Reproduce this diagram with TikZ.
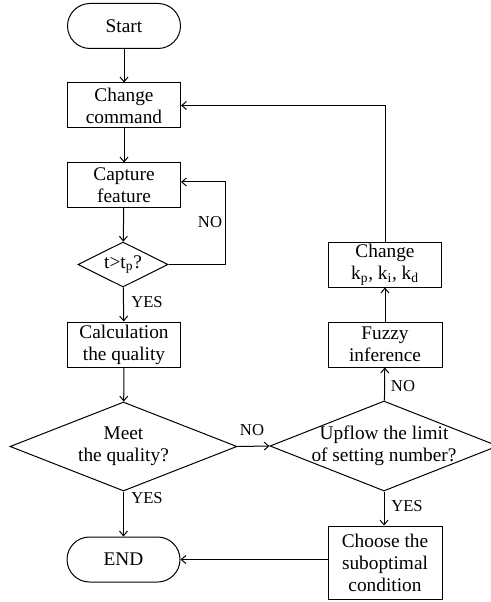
\documentclass[tikz,border=0pt]{standalone}
\usepackage{fontspec}
\setmainfont{Liberation Serif}
\usetikzlibrary{shapes.geometric,arrows.meta}
\begin{document}
\begin{tikzpicture}[x=0.75pt,y=-0.75pt,line width=0.75pt,
  txt/.style={font=\fontsize{14.5}{16.5}\selectfont,align=center},
  lbl/.style={font=\fontsize{12.5}{14}\selectfont,inner sep=0pt},
  box/.style={draw,rectangle,txt,inner sep=0pt,minimum width=84.75pt,minimum height=33.75pt},
  term/.style={box,rounded corners=16.9pt},
  dia/.style={draw,diamond,inner sep=0pt,minimum width=#1},
  arr/.style={-{Straight Barb[length=3.5pt,width=6pt]}}]
\useasboundingbox (0,0) rectangle (490,602);

% left column
\node[term] (start) at (124,26) {Start};
\node[box] (cmd) at (124,105.5) {Change\\command};
\node[box,minimum height=33pt] (cap) at (124,185) {Capture\\feature};
\node[dia=67.5pt,minimum height=33.75pt] (tdia) at (123,264.5) {};
\node[txt] at (tdia) {t>t\textsubscript{p}?};
\node[box] (calc) at (124,344.5) {Calculation\\the quality};
\node[dia=170.25pt,minimum height=66.75pt] (meet) at (123.5,446.5) {};
\node[txt] at (meet) {Meet\\the quality?};
\node[term] (end) at (123.5,559.5) {END};

% right column
\node[dia=171pt,minimum height=67.5pt] (upf) at (384,446) {};
\node[txt] at (upf) {Upflow the limit\\of setting number?};
\node[box,minimum width=85.5pt,minimum height=54.75pt] (choose) at (385,562.5) {Choose the\\suboptimal\\condition};
\node[box,minimum width=85.5pt] (fuzzy) at (385,344.5) {Fuzzy\\inference};
\node[box] (kp) at (385,264.5) {Change\\k\textsubscript{p}, k\textsubscript{i}, k\textsubscript{d}};

% connectors
\draw[arr] (start) -- (cmd);
\draw[arr] (cmd) -- (cap);
\draw[arr] (cap) -- (tdia);
\draw[arr] (tdia.east) -- ++(57,0) |- ([yshift=2.25pt]cap.east);
\draw[arr] (tdia) -- (calc);
\draw[arr] (calc) -- (meet);
\draw[arr] (meet) -- (end);
\draw[arr] (meet.east) -- (upf.west);
\draw[arr] (upf) -- (fuzzy);
\draw[arr] (upf.south) -- (upf.south |- choose.north);
\draw[arr] (fuzzy) -- (kp);
\draw[arr] (kp.north) |- (cmd.east);
\draw[arr] (choose.west |- end.east) -- (end.east);

% branch labels
\node[lbl] at (210,222) {NO};
\node[lbl] at (147,302) {YES};
\node[lbl] at (147,498) {YES};
\node[lbl] at (252,430) {NO};
\node[lbl] at (403,386) {NO};
\node[lbl] at (407,506) {YES};
\end{tikzpicture}
\end{document}
